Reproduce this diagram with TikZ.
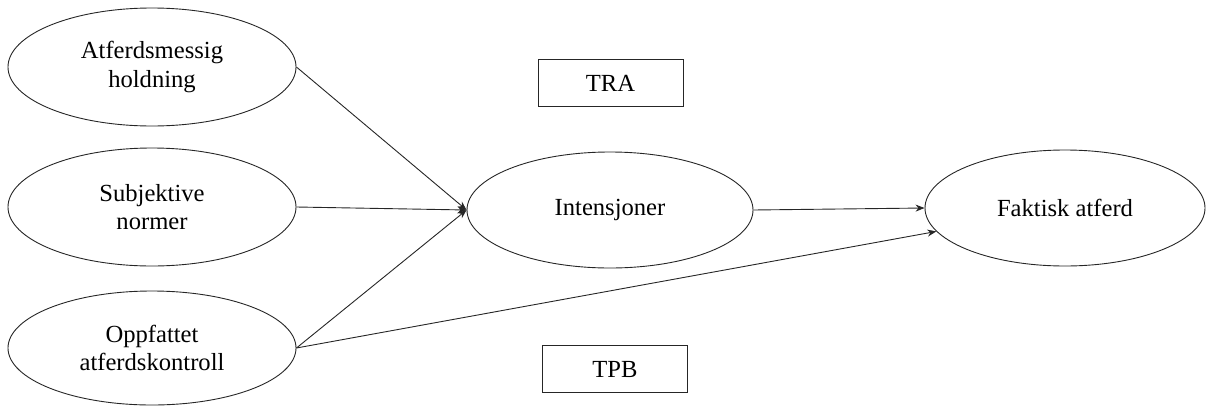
\documentclass[tikz,border=0pt]{standalone}
\usepackage{fontspec}
\setmainfont{Liberation Serif}
\usetikzlibrary{shapes.geometric,arrows.meta}
\begin{document}
\begin{tikzpicture}[x=1pt,y=-1pt,
  concept/.style={ellipse,draw=black!85,line width=0.9pt,inner sep=0pt,
    align=center,font=\fontsize{24.6}{28.5}\selectfont},
  label box/.style={rectangle,draw=black!85,line width=0.9pt,inner sep=0pt,
    minimum width=145pt,minimum height=47pt,font=\fontsize{24.6}{28.5}\selectfont},
  link/.style={draw=black!85,line width=0.9pt,-{Stealth[length=9pt,width=7pt]}}]
  \useasboundingbox (0,0) rectangle (1206,407);

  \node[concept,minimum width=288pt,minimum height=118pt] (att) at (152,67) {Atferdsmessig\\holdning};
  \node[concept,minimum width=288pt,minimum height=118pt] (sub) at (152,207) {Subjektive\\normer};
  \node[concept,minimum width=288pt,minimum height=114pt] (opp) at (152,348) {Oppfattet\\atferdskontroll};
  \node[concept,minimum width=286pt,minimum height=116pt] (int) at (610,210) {Intensjoner};
  \node[concept,minimum width=280pt,minimum height=116pt] (fak) at (1065,208) {Faktisk atferd};

  \node[label box] (tra) at (610.5,83) {TRA};
  \node[label box] (tpb) at (615,369) {TPB};

  \draw[link] (att.east) -- (int.west);
  \draw[link] (sub.east) -- (int.west);
  \draw[link] (opp.east) -- (int.west);
  \draw[link] (int.east) -- (fak.west);
  \draw[link] (opp.east) -- (fak);
\end{tikzpicture}
\end{document}
